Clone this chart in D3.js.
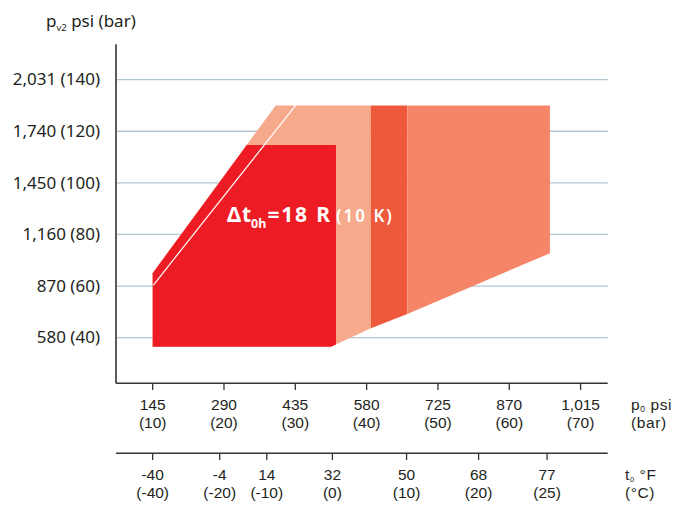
<!DOCTYPE html>
<html><head><meta charset="utf-8">
<script src="https://cdn.jsdelivr.net/npm/d3@7"></script>
<style>body{margin:0;background:#fff}svg{display:block}text{font-family:"Noto Sans",sans-serif;fill:#231f20}
.ax{font-family:"Liberation Sans",Arial,sans-serif}</style>
</head><body>
<script>
// ---- data (bar units) ----
const yTicksBar = [40, 60, 80, 100, 120, 140];
const yTicksPsi = ["580", "870", "1,160", "1,450", "1,740", "2,031"];
const xTicksBar = [10, 20, 30, 40, 50, 60, 70];
const xTicksPsi = ["145", "290", "435", "580", "725", "870", "1,015"];
const tTicksBar = [10.0, 19.4, 26.0, 35.2, 45.6, 55.7, 65.3]; // saturation pressure positions
const tTicksF = ["-40", "-4", "14", "32", "50", "68", "77"];
const tTicksC = ["(-40)", "(-20)", "(-10)", "(0)", "(10)", "(20)", "(25)"];
// polygons [p0 bar, pv2 bar]
const lightZone = [[27.25,130],[40.6,130],[40.6,43.6],[35.0,36.5],[10,36.5],[10,65]];
const darkColumn = [[40.6,130],[45.7,130],[45.7,49.2],[40.6,43.6]];
const mediumZone = [[45.7,130],[65.7,130],[65.7,72.7],[45.7,49.2]];
const redZone = [[10,36.5],[10,65],[23.2,114.7],[35.7,114.7],[35.7,37.3],[35.0,36.5]];
const whiteLine = [[10.1,60.4],[30.1,130.2]];

const W = 679, H = 507;
const svg = d3.select("body").append("svg").attr("width", W).attr("height", H);
const x = d3.scaleLinear().domain([5, 73.8]).range([117, 607.7]);
const y = d3.scaleLinear().domain([22.3, 153.7]).range([383.3, 44.3]);

// gridlines
svg.append("g").selectAll("line").data(yTicksBar).join("line")
  .attr("x1", 117).attr("x2", 607.7)
  .attr("y1", d => y(d)).attr("y2", d => y(d))
  .attr("stroke", "#b3c6d2").attr("stroke-width", 1.3);

const line = d3.line().x(d => x(d[0])).y(d => y(d[1]));
const poly = (pts, fill) => svg.append("path").attr("d", line(pts) + "Z").attr("fill", fill);
poly(lightZone, "#f7a98b");
poly(darkColumn, "#ee583b");
poly(mediumZone, "#f48568");
poly(redZone, "#ed1c24");
svg.append("path").attr("d", line(whiteLine)).attr("stroke", "#fff").attr("stroke-width", 1.2).attr("fill", "none");

// label in zone
const lab = svg.append("text").attr("y", 222).attr("font-weight", "bold").attr("font-size", 21).attr("letter-spacing", 0.8);
lab.append("tspan").attr("x", 227).text("Δt").style("fill", "#fff");
lab.append("tspan").attr("x", 251).text("0h").attr("font-size", 12.5).attr("letter-spacing", 0).attr("dy", 6).style("fill", "#fff");
lab.append("tspan").attr("x", 267.5).attr("dy", -6).text("=18 R").attr("letter-spacing", 1.8).style("fill", "#fff");
lab.append("tspan").attr("x", 336).text("(10 K)").attr("font-size", 17).attr("letter-spacing", 2).style("fill", "#fff").attr("font-weight", 600);

// y axis
svg.append("line").attr("x1", 116).attr("x2", 116).attr("y1", 44.3).attr("y2", 383.3).attr("stroke", "#333").attr("stroke-width", 1.6);
svg.append("g").selectAll("text").data(yTicksBar).join("text")
  .attr("x", 100).attr("y", d => y(d) + 5.8).attr("text-anchor", "end").attr("font-size", 17)
  .text((d, i) => `${yTicksPsi[i]} (${d})`);
const yt = svg.append("text").attr("x", 46).attr("y", 27).attr("font-size", 17);
yt.append("tspan").text("p");
yt.append("tspan").text("v2").attr("font-size", 9.5).attr("dy", 4);
yt.append("tspan").text(" psi (bar)").attr("dy", -4);

// x axis (pressure)
svg.append("line").attr("x1", 116).attr("x2", 607.7).attr("y1", 383.3).attr("y2", 383.3).attr("stroke", "#333").attr("stroke-width", 1.6);
const xg = svg.append("g").selectAll("g").data(xTicksBar).join("g").attr("transform", d => `translate(${x(d)},0)`);
xg.append("line").attr("y1", 383.3).attr("y2", 390).attr("stroke", "#333").attr("stroke-width", 1.3);
xg.append("text").attr("class", "ax").attr("text-anchor", "middle").attr("font-size", 15.5).attr("y", 409.5).text((d, i) => xTicksPsi[i]);
xg.append("text").attr("class", "ax").attr("text-anchor", "middle").attr("font-size", 15.5).attr("y", 427.5).text(d => `(${d})`);
const pl = svg.append("text").attr("class", "ax").attr("font-size", 15.5).attr("x", 631).attr("y", 409.5).attr("letter-spacing", 0.6);
pl.append("tspan").text("p");
pl.append("tspan").text("0").attr("font-size", 8.5).attr("dy", 2.5);
pl.append("tspan").text(" psi").attr("dy", -2.5);
svg.append("text").attr("class", "ax").attr("font-size", 15.5).attr("x", 631).attr("y", 427.5).attr("letter-spacing", 0.6).text("(bar)");

// temperature axis
svg.append("line").attr("x1", 116).attr("x2", 607.7).attr("y1", 453.3).attr("y2", 453.3).attr("stroke", "#333").attr("stroke-width", 1.6);
const tg = svg.append("g").selectAll("g").data(tTicksBar).join("g").attr("transform", d => `translate(${x(d)},0)`);
tg.append("line").attr("y1", 453.3).attr("y2", 460).attr("stroke", "#333").attr("stroke-width", 1.3);
tg.append("text").attr("class", "ax").attr("text-anchor", "middle").attr("font-size", 15.5).attr("y", 480).text((d, i) => tTicksF[i]);
tg.append("text").attr("class", "ax").attr("text-anchor", "middle").attr("font-size", 15.5).attr("y", 498).text((d, i) => tTicksC[i]);
const tl = svg.append("text").attr("class", "ax").attr("font-size", 15.5).attr("x", 625).attr("y", 480).attr("letter-spacing", 0.6);
tl.append("tspan").text("t");
tl.append("tspan").text("0").attr("font-size", 7.5).attr("dy", 2);
tl.append("tspan").text(" °F").attr("dy", -2);
svg.append("text").attr("class", "ax").attr("font-size", 15.5).attr("x", 625).attr("y", 498).attr("letter-spacing", 0.6).text("(°C)");
</script>
</body></html>
